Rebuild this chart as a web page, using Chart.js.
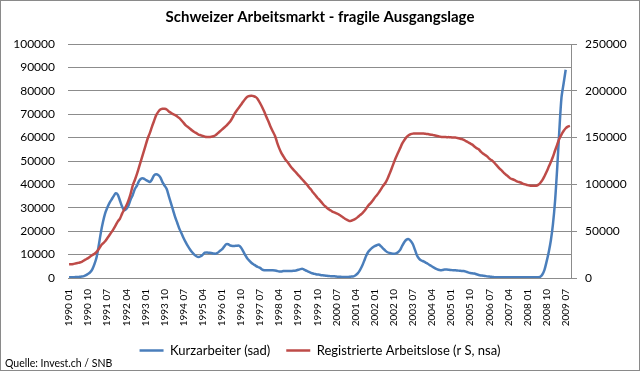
<!DOCTYPE html>
<html>
<head>
<meta charset="utf-8">
<script src="https://cdn.jsdelivr.net/npm/chart.js@4.4.0/dist/chart.umd.min.js"></script>
<style>
  html, body { margin: 0; padding: 0; background: #fff; }
  #wrap { width: 640px; height: 371px; }
</style>
</head>
<body>
<div id="wrap"><canvas id="c" width="640" height="371"></canvas></div>
<script>
// Schweizer Arbeitsmarkt: Kurzarbeiter (left) vs. registrierte Arbeitslose (right), monthly 1990 01 .. 2009 09

const FONT = 'Lato, "Open Sans", sans-serif';

const firstYear = 1990;
const monthCount = 237;           // 1990 01 .. 2009 09
const labelEvery = 9;             // tick labels every 9 months

const months = [];
for (let i = 0; i < monthCount; i++) {
  const y = firstYear + Math.floor(i / 12), m = (i % 12) + 1;
  months.push(`${y} ${String(m).padStart(2, '0')}`);
}

// Kurzarbeiter (sad), left axis
const kurzarbeiter = [
  300, 300, 300, 400, 400, 500, 600, 800,
  1200, 1800, 2500, 3800, 6000, 9000, 14000, 19500,
  24000, 27600, 30000, 32000, 33500, 35000, 36200, 35500,
  33000, 30500, 29000, 29500, 31000, 33500, 35500, 38000,
  39500, 41500, 42500, 42500, 42000, 41500, 41000, 42000,
  43800, 44300, 44000, 43000, 41000, 39500, 38000, 35000,
  32000, 29000, 26000, 23500, 21000, 19000, 17000, 15200,
  13600, 12200, 11000, 10000, 9300, 9000, 9300, 10000,
  10800, 10900, 10800, 10700, 10500, 10400, 10800, 11500,
  12200, 13300, 14400, 14400, 13900, 13700, 13700, 13800,
  13800, 13000, 11500, 9800, 8300, 7300, 6400, 5800,
  5200, 4700, 4300, 3600, 3300, 3300, 3300, 3300,
  3300, 3200, 3000, 2800, 2800, 3000, 3000, 3000,
  3000, 3000, 3100, 3200, 3500, 3800, 3900, 3500,
  3000, 2600, 2200, 1900, 1700, 1500, 1400, 1200,
  1100, 1000, 900, 800, 700, 700, 600, 500,
  500, 400, 400, 400, 500, 600, 700, 1200,
  2000, 3300, 5000, 7200, 9500, 11200, 12200, 13000,
  13600, 14000, 14300, 13500, 12600, 11700, 11000, 10700,
  10500, 10400, 10500, 11000, 12000, 13800, 15400, 16400,
  16600, 15800, 14400, 12000, 9500, 8200, 7500, 7100,
  6600, 6100, 5500, 4900, 4400, 3900, 3500, 3300,
  3400, 3600, 3600, 3500, 3400, 3300, 3300, 3200,
  3100, 3000, 3000, 2700, 2400, 2100, 2000, 1900,
  1600, 1300, 1100, 1000, 900, 700, 600, 500,
  400, 300, 300, 300, 300, 300, 300, 300,
  300, 300, 300, 300, 300, 300, 300, 300,
  300, 300, 300, 300, 300, 300, 500, 1500,
  3500, 7000, 11000, 16000, 23000, 33000, 47000, 63000,
  77000, 83000, 89000, null, null
];

// Registrierte Arbeitslose (r S, nsa), right axis
const arbeitslose = [
  14750, 14750, 15000, 15500, 16000, 16500, 17250, 18750,
  20000, 21250, 23000, 24500, 26000, 28000, 31000, 34500,
  37000, 39250, 42500, 45750, 49000, 52500, 56500, 60500,
  63500, 68750, 73250, 77500, 83000, 90000, 98750, 104750,
  111250, 118750, 126250, 133750, 141250, 148750, 154500, 161250,
  167500, 173750, 177500, 180000, 180750, 180750, 180000, 178000,
  176500, 175000, 174000, 172500, 170750, 168250, 165750, 163000,
  161250, 159500, 157500, 156000, 154750, 153250, 152500, 151750,
  151000, 150750, 150750, 151000, 151500, 152500, 154500, 156500,
  158500, 160500, 162500, 165000, 167500, 171250, 175500, 179000,
  182000, 185000, 188250, 191250, 193750, 194500, 194750, 194250,
  193250, 190750, 186750, 182500, 177500, 172000, 167000, 161250,
  156500, 152000, 145000, 138750, 133750, 130000, 126250, 123750,
  120500, 117500, 115000, 112500, 110000, 107500, 105000, 102500,
  100000, 97000, 94500, 91250, 88750, 85750, 83500, 80750,
  78000, 76000, 74000, 72500, 71000, 70000, 69000, 68000,
  66500, 65000, 63250, 62000, 61000, 61250, 62000, 63250,
  65000, 67000, 68750, 71250, 74250, 77500, 79750, 82500,
  85750, 88500, 91500, 95000, 98500, 101500, 105750, 111250,
  117000, 123000, 128750, 133750, 138750, 143750, 147500, 150500,
  152500, 153750, 154250, 154250, 154250, 154250, 154250, 154250,
  154000, 153750, 153250, 153000, 152500, 152000, 151500, 151000,
  150750, 150750, 150500, 150500, 150250, 150000, 150000, 149500,
  149000, 148500, 147500, 146250, 145000, 143750, 142500, 140500,
  138750, 137500, 135000, 133000, 131500, 130000, 127500, 126000,
  124000, 121500, 119000, 116500, 114500, 112000, 110000, 108250,
  106250, 105500, 104500, 103250, 102500, 101750, 100500, 100000,
  99250, 98750, 98500, 98500, 98500, 99500, 101500, 104500,
  108750, 113500, 118750, 124000, 129500, 136250, 142500, 148750,
  153250, 157000, 160000, 161750, 162500
];

const leftTicks = [0, 100000, 10000];
const rightTicks = [0, 250000, 50000];

const GRID = '#8c8c8c';
const plain = (v) => String(v);   // no thousands separators

const frame = {
  id: 'frame',
  afterDraw(chart) {
    const ctx = chart.ctx;
    ctx.save();
    ctx.strokeStyle = '#8a8a8a';
    ctx.lineWidth = 1;
    ctx.strokeRect(0.5, 0.5, chart.width - 1, chart.height - 1);
    ctx.fillStyle = '#000';
    ctx.font = '10.5px ' + FONT;
    ctx.textBaseline = 'alphabetic';
    ctx.fillText('Quelle: Invest.ch / SNB', 5, 367);
    ctx.restore();
  }
};

new Chart(document.getElementById('c'), {
  type: 'line',
  data: {
    labels: months,
    datasets: [
      { label: 'Kurzarbeiter (sad)', data: kurzarbeiter, yAxisID: 'y',
        borderColor: '#4a7ebb', borderWidth: 2.5, pointRadius: 0, tension: 0.3, order: 1 },
      { label: 'Registrierte Arbeitslose (r S, nsa)', data: arbeitslose, yAxisID: 'y1',
        borderColor: '#be4b48', borderWidth: 2.5, pointRadius: 0, tension: 0.3, order: 0 },
    ],
  },
  options: {
    responsive: false,
    animation: false,
    layout: { padding: { left: 0, right: 0, top: 0, bottom: 4 } },
    scales: {
      x: {
        offset: true,
        grid: { display: false, drawTicks: false },
        border: { display: false },
        ticks: {
          autoSkip: false, maxRotation: 90, minRotation: 90, padding: 11,
          color: '#000', font: { family: FONT, size: 10 },
          callback: (v, i) => (i % labelEvery === 0 ? months[i] : null),
        },
        afterFit: (s) => { s.height = 50; },
      },
      y: {
        position: 'left',
        min: leftTicks[0], max: leftTicks[1],
        ticks: { stepSize: leftTicks[2], padding: 13, color: '#000', font: { family: FONT, size: 12 }, callback: plain },
        grid: { color: GRID, drawTicks: false },
        border: { display: false },
        afterFit: (s) => { s.width = 68; },
      },
      y1: {
        position: 'right',
        min: rightTicks[0], max: rightTicks[1],
        ticks: { stepSize: rightTicks[2], padding: 8, color: '#000', font: { family: FONT, size: 12 }, callback: plain },
        grid: { drawOnChartArea: false, drawTicks: true, tickLength: 6, tickColor: GRID },
        border: { display: true, color: GRID },
        afterFit: (s) => { s.width = 69; },
      },
    },
    plugins: {
      title: {
        display: true,
        text: 'Schweizer Arbeitsmarkt - fragile Ausgangslage',
        color: '#000',
        font: { family: FONT, size: 15, weight: 'bold' },
        padding: { top: 8, bottom: 18 },
      },
      legend: {
        position: 'bottom',
        labels: {
          usePointStyle: true, pointStyle: 'line', pointStyleWidth: 24,
          color: '#000', font: { family: FONT, size: 13 }, padding: 16,
          sort: (a, b) => a.datasetIndex - b.datasetIndex,
        },
      },
      tooltip: { enabled: false },
    },
  },
  plugins: [frame],
});
</script>
</body>
</html>
